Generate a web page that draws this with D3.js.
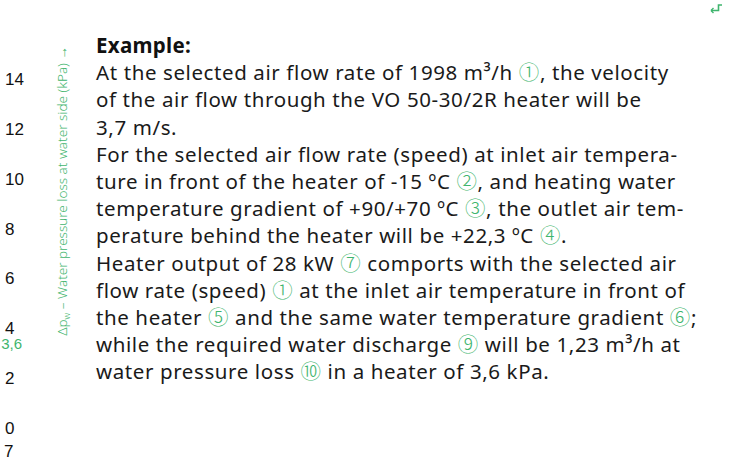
<!DOCTYPE html>
<html>
  <head>
    <meta charset="utf-8">
    <title>Heater example</title>
    <script src="https://d3js.org/d3.v7.min.js"></script>
    <style>
      body { margin: 0; background: #fff; }
      svg { display: block; }
    </style>
  </head>
  <body>
    <div class="chart"></div>
    <script>
      // y axis values (kPa) and the marked reading
      var yTicks = [0, 2, 4, 6, 8, 10, 12, 14];
      var markValue = 3.6;
      var markLabel = "3,6";
      var axisTitle = "\u0394p";
      var axisTitleSub = "w";
      var axisTitleRest = " \u2013 Water pressure loss at water side (kPa) \u2192";
      var cutLabel = "7";

      // example text, line by line
      var heading = "Example:";
      var lines = [
        "At the selected air flow rate of 1998 m\u00b3/h \u2460, the velocity",
        "of the air flow through the VO 50-30/2R heater will be",
        "3,7 m/s.",
        "For the selected air flow rate (speed) at inlet air tempera-",
        "ture in front of the heater of -15 \u00baC \u2461, and heating water",
        "temperature gradient of +90/+70 \u00baC \u2462, the outlet air tem-",
        "perature behind the heater will be +22,3 \u00baC \u2463.",
        "Heater output of 28 kW \u2466 comports with the selected air",
        "flow rate (speed) \u2460 at the inlet air temperature in front of",
        "the heater \u2464 and the same water temperature gradient \u2465;",
        "while the required water discharge \u2468 will be 1,23 m\u00b3/h at",
        "water pressure loss \u2469 in a heater of 3,6 kPa."
      ];

      var width = 731, height = 463;
      var green = "#3fb56e";
      var textFont = "'Noto Sans', sans-serif";

      var svg = d3.select(".chart").append("svg")
        .attr("width", width)
        .attr("height", height);

      // left axis (only the labels survive in the crop)
      var y = d3.scaleLinear()
        .domain([0, 14])
        .range([434, 85]);

      svg.selectAll(".tick")
        .data(yTicks)
        .enter().append("text")
          .attr("class", "tick")
          .attr("x", 5)
          .attr("y", function(d) { return y(d); })
          .attr("font-family", "'Liberation Sans', Arial, sans-serif")
          .attr("font-size", 17)
          .attr("fill", "#111")
          .text(function(d) { return d; });

      svg.append("text")
        .attr("x", 22)
        .attr("y", y(markValue) + 5)
        .attr("text-anchor", "end")
        .attr("font-family", "'Liberation Sans', Arial, sans-serif")
        .attr("font-size", 15)
        .attr("fill", green)
        .text(markLabel);

      svg.append("text")
        .attr("x", 4)
        .attr("y", 457)
        .attr("font-family", "'Liberation Sans', Arial, sans-serif")
        .attr("font-size", 17)
        .attr("fill", "#111")
        .text(cutLabel);

      var title = svg.append("text")
        .attr("transform", "translate(67,191) rotate(-90)")
        .attr("text-anchor", "middle")
        .attr("font-family", textFont)
        .attr("font-size", 13.5)
        .attr("font-weight", 300)
        .attr("fill", green);
      title.append("tspan").text(axisTitle);
      title.append("tspan").attr("font-size", 9).attr("dy", 3).text(axisTitleSub);
      title.append("tspan").attr("dy", -3).text(axisTitleRest);

      // small return-arrow icon in the corner
      svg.append("path")
        .attr("d", "M711,10.5 H718.5 V5 H722")
        .attr("fill", "none")
        .attr("stroke", green)
        .attr("stroke-width", 1.6);
      svg.append("path")
        .attr("d", "M711,10.5 l2.5,-2.5 M711,10.5 l2.5,2.5")
        .attr("fill", "none")
        .attr("stroke", green)
        .attr("stroke-width", 1.4);

      // text block
      var lineY = d3.scaleLinear()
        .domain([0, lines.length])
        .range([53, 53 + 27.2 * lines.length]);

      svg.append("text")
        .attr("x", 96)
        .attr("y", lineY(0))
        .attr("font-family", textFont)
        .attr("font-size", 20.5)
        .attr("font-weight", 700)
        .attr("letter-spacing", 0.3)
        .attr("fill", "#111")
        .text(heading);

      var circled = /([\u2460-\u2469])/;
      var rows = svg.selectAll(".line")
        .data(lines)
        .enter().append("text")
          .attr("class", "line")
          .attr("x", 96)
          .attr("y", function(d, i) { return lineY(i + 1); })
          .attr("font-family", textFont)
          .attr("font-size", 20.5)
          .attr("letter-spacing", 0.6)
          .attr("fill", "#1a1a1a");

      rows.each(function(d) {
        var row = d3.select(this);
        d.split(circled).forEach(function(part) {
          if (!part) return;
          var isMark = circled.test(part);
          row.append("tspan")
            .attr("fill", isMark ? green : null)
            .attr("font-family", isMark ? "'Noto Sans CJK JP', 'DejaVu Sans', sans-serif" : null)
            .attr("font-weight", isMark ? 300 : null)
            .text(part);
        });
      });
    </script>
  </body>
</html>
